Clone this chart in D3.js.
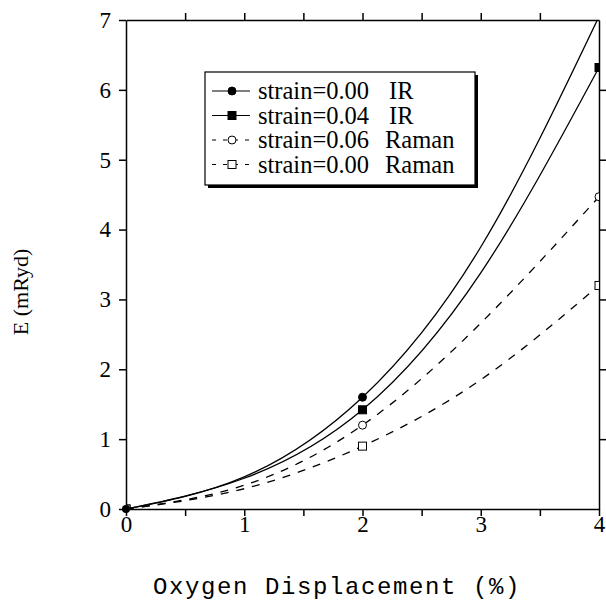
<!DOCTYPE html>
<html>
<head>
<meta charset="utf-8">
<script src="https://cdn.jsdelivr.net/npm/d3@7"></script>
<style>
  body { margin: 0; background: #fff; }
  svg { display: block; }
</style>
</head>
<body>
<svg id="chart"></svg>
<script>
// values
const xs = [0, 1, 2, 3, 4];
const markerXs = [0, 2, 4];
const irStrain000 = [0, 0.46, 1.60, 3.75, 7.05];
const irStrain004 = [0, 0.44, 1.42, 3.38, 6.32];
const ramanStrain006 = [0, 0.34, 1.20, 2.66, 4.47];
const ramanStrain000 = [0, 0.29, 0.90, 1.85, 3.20];
const xTicks = [0, 1, 2, 3, 4];
const yTicks = [0, 1, 2, 3, 4, 5, 6, 7];

const series = [
      {label: 'strain=0.00', kind: 'IR', values: irStrain000, shape: 'circle', filled: true, dashed: false},
      {label: 'strain=0.04', kind: 'IR', values: irStrain004, shape: 'square', filled: true, dashed: false},
      {label: 'strain=0.06', kind: 'Raman', values: ramanStrain006, shape: 'circle', filled: false, dashed: true},
      {label: 'strain=0.00', kind: 'Raman', values: ramanStrain000, shape: 'square', filled: false, dashed: true}
];

const width = 606, height = 601;
const margin = {top: 20, right: 7, bottom: 92, left: 126};
const innerW = width - margin.left - margin.right;
const innerH = height - margin.top - margin.bottom;

const svg = d3.select('#chart').attr('width', width).attr('height', height);
const chart = svg.append('g').attr('transform', `translate(${margin.left}, ${margin.top})`);

const xscale = d3.scaleLinear().domain([0, 4]).range([0, innerW]);
const yscale = d3.scaleLinear().domain([0, 7]).range([innerH, 0]);

svg.append('defs').append('clipPath').attr('id', 'plot')
      .append('rect').attr('width', innerW).attr('height', innerH);

// axes
const serif = '"Liberation Serif", "Times New Roman", serif';
const axisBottomG = chart.append('g').attr('transform', `translate(0, ${innerH})`)
      .call(d3.axisBottom(xscale).tickValues(d3.range(0, 4.01, 0.5)).tickSize(7).tickSizeOuter(0)
            .tickFormat(d => xTicks.includes(d) ? d : ''));
const axisLeftG = chart.append('g')
      .call(d3.axisLeft(yscale).tickValues(yTicks).tickSize(7).tickSizeOuter(0).tickFormat(d3.format('d')));
const axisTopG = chart.append('g')
      .call(d3.axisTop(xscale).tickValues(d3.range(0.5, 4, 0.5)).tickSize(7).tickSizeOuter(0).tickFormat(''));
const axisRightG = chart.append('g').attr('transform', `translate(${innerW}, 0)`)
      .call(d3.axisRight(yscale).tickValues(yTicks.slice(1, -1)).tickSize(7).tickSizeOuter(0).tickFormat(''));

[axisBottomG, axisLeftG, axisTopG, axisRightG].forEach(g => {
      g.selectAll('path, line').attr('stroke', '#000').attr('stroke-width', 1.5);
      g.selectAll('text').attr('fill', '#000').style('font-family', serif).style('font-size', '23px');
});
axisBottomG.selectAll('text').attr('dy', '0.85em').attr('y', 3);
axisLeftG.selectAll('text').attr('x', -15);

// curves
const line = d3.line()
      .x((d, i) => xscale(xs[i]))
      .y(d => yscale(d))
      .curve(d3.curveNatural);

const plot = chart.append('g').attr('clip-path', 'url(#plot)');
plot.selectAll('path.curve')
      .data(series)
      .enter()
      .append('path')
      .attr('class', 'curve')
      .attr('d', d => line(d.values))
      .attr('fill', 'none')
      .attr('stroke', '#000')
      .attr('stroke-width', 1.3)
      .attr('stroke-dasharray', d => d.dashed ? '8,8' : null);

function drawMarker(g, s, x, y){
      if (s.shape === 'circle') {
            g.append('circle').attr('cx', x).attr('cy', y).attr('r', 4)
                  .attr('fill', s.filled ? '#000' : '#fff').attr('stroke', '#000').attr('stroke-width', 1);
      } else {
            g.append('rect').attr('x', x - 4).attr('y', y - 4).attr('width', 8).attr('height', 8)
                  .attr('fill', s.filled ? '#000' : '#fff').attr('stroke', '#000').attr('stroke-width', 1);
      }
}

const markers = chart.append('g').attr('clip-path', 'url(#plot)');
series.forEach(s => {
      markerXs.forEach(mx => {
            const v = s.values[xs.indexOf(mx)];
            drawMarker(markers, s, xscale(mx), yscale(v));
      });
});
// the origin dot sits on the axes
chart.append('circle').attr('cx', xscale(0)).attr('cy', yscale(0)).attr('r', 4).attr('fill', '#000');

// legend
const lx = 205, ly = 72, lw = 270, lh = 113, rowH = 24.5;
svg.append('rect').attr('x', lx + 3).attr('y', ly + 3).attr('width', lw).attr('height', lh).attr('fill', '#000');
svg.append('rect').attr('x', lx).attr('y', ly).attr('width', lw).attr('height', lh)
      .attr('fill', '#fff').attr('stroke', '#000').attr('stroke-width', 1.2);
const legend = svg.append('g');
series.forEach((s, i) => {
      const cy = ly + 19 + i * rowH;
      legend.append('line').attr('x1', 212).attr('x2', 250).attr('y1', cy).attr('y2', cy)
            .attr('stroke', '#000').attr('stroke-width', 1.2)
            .attr('stroke-dasharray', s.dashed ? '4,7' : null);
      drawMarker(legend, s, 232, cy);
      legend.append('text').attr('x', 258).attr('y', cy + 8)
            .style('font-family', serif).style('font-size', '24.5px').text(s.label);
      legend.append('text').attr('x', s.kind === 'IR' ? 389 : 385).attr('y', cy + 8)
            .style('font-family', serif).style('font-size', '24.5px').text(s.kind);
});

// axis titles
svg.append('text')
      .attr('x', 337).attr('y', 594)
      .attr('text-anchor', 'middle')
      .style('font-family', '"Liberation Mono", "Courier New", monospace')
      .style('font-size', '24px')
      .style('letter-spacing', '1.6px')
      .text('Oxygen Displacement (%)');

svg.append('text')
      .attr('transform', 'translate(28, 292) rotate(-90)')
      .attr('text-anchor', 'middle')
      .style('font-family', serif)
      .style('font-size', '22px')
      .text('E (mRyd)');
</script>
</body>
</html>
